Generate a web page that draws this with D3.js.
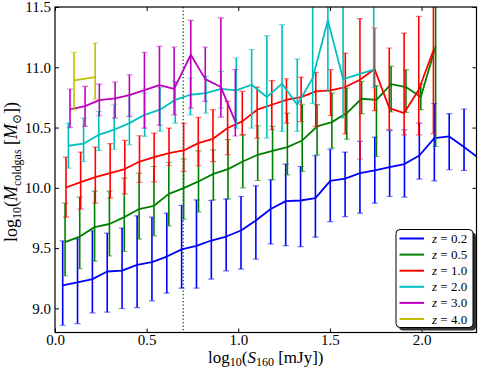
<!DOCTYPE html>
<html>
<head>
<meta charset="utf-8">
<script src="https://cdn.jsdelivr.net/npm/d3@7"></script>
<style>
  body { margin: 0; background: #fff; }
  svg { display: block; font-family: "Liberation Serif", "DejaVu Serif", serif; }
</style>
</head>
<body>
<script>
// values: x = log10(S160), y = log10(M_coldgas), lo/hi = error bar ends
var xBlue = [0.042,0.123,0.204,0.285,0.366,0.448,0.529,0.610,0.691,0.772,0.853,0.934,1.015,1.096,1.177,1.259,1.340,1.421,1.502,1.583,1.664,1.745,1.826,1.907,1.988,2.070,2.151,2.232,2.313];
var yBlue = [9.19,9.215,9.243,9.306,9.314,9.361,9.384,9.43,9.49,9.519,9.563,9.596,9.646,9.729,9.824,9.89,9.895,9.915,10.058,10.077,10.122,10.144,10.172,10.197,10.268,10.413,10.426,10.338,10.246];
var hiBlue = [9.56,9.577,9.644,9.624,9.666,9.768,9.757,9.79,9.854,9.9,9.895,9.907,9.928,10.017,10.067,10.197,10.177,10.266,10.32,10.297,10.385,10.421,10.476,10.482,10.537,10.698,10.615,10.654,10.55];
var loBlue = [8.86,8.874,8.963,8.969,8.999,9.007,9.063,9.127,9.168,9.168,9.243,9.312,9.326,9.409,9.535,9.52,9.513,9.591,9.72,9.762,9.79,9.873,9.928,9.923,10.073,10.058,10.15,10.144,9.95];

var xGreen = [0.055,0.135,0.216,0.297,0.378,0.459,0.540,0.621,0.702,0.783,0.864,0.944,1.025,1.106,1.187,1.268,1.349,1.430,1.511,1.592,1.673,1.754,1.834,1.915,1.996,2.077];
var yGreen = [9.55,9.596,9.674,9.70,9.757,9.824,9.851,9.95,9.998,10.053,10.116,10.155,10.218,10.274,10.307,10.338,10.393,10.509,10.545,10.62,10.739,10.73,10.861,10.836,10.753,11.173];
var hiGreen = [9.873,9.923,9.973,9.973,10.08,10.122,10.177,10.21,10.238,10.307,10.315,10.40,10.44,10.515,10.509,10.62,10.689,10.69,10.786,10.828,10.883,10.847,11.007,10.98,10.861,11.9];
var loGreen = [9.27,9.33,9.392,9.436,9.472,9.575,9.602,9.685,9.74,9.799,9.9,9.909,10.0,10.061,10.067,10.108,10.136,10.274,10.33,10.404,10.615,10.26,10.629,10.626,10.648,10.343];

var xRed = [0.060,0.140,0.220,0.301,0.381,0.461,0.541,0.622,0.702,0.782,0.862,0.942,1.022,1.103,1.183,1.263,1.343,1.423,1.504,1.584,1.664,1.744,1.824,1.905,1.985,2.065];
var yRed = [10.003,10.048,10.089,10.122,10.156,10.218,10.255,10.288,10.31,10.371,10.407,10.496,10.551,10.648,10.689,10.73,10.752,10.8,10.808,10.836,10.897,10.985,10.662,10.62,10.814,11.14];
var hiRed = [10.255,10.297,10.338,10.366,10.393,10.432,10.454,10.496,10.537,10.585,10.648,10.717,10.8,10.836,10.89,10.905,10.919,10.957,10.98,11.118,11.403,11.326,11.16,11.284,11.422,11.9];
var loRed = [9.757,9.824,9.873,9.915,9.95,10.045,10.05,10.183,10.136,10.183,10.218,10.274,10.44,10.413,10.482,10.537,10.55,10.509,10.6,10.447,10.239,10.64,10.482,10.44,10.44,10.45];

var xCyan = [0.073,0.156,0.239,0.323,0.406,0.489,0.573,0.656,0.739,0.823,0.906,0.989,1.073,1.156,1.239,1.322,1.406,1.489,1.572,1.739];
var yCyan = [10.349,10.366,10.44,10.482,10.537,10.606,10.648,10.73,10.772,10.786,10.82,10.808,10.855,10.753,10.864,10.689,10.91,11.389,10.902,10.98];
var hiCyan = [10.537,10.578,10.633,10.689,10.772,10.786,10.83,10.883,10.911,10.924,10.966,11.077,11.146,11.262,11.353,11.068,11.9,11.9,11.9,11.9];
var loCyan = [10.164,10.218,10.31,10.32,10.357,10.427,10.47,10.537,10.606,10.62,10.662,10.496,10.496,10.413,10.468,10.468,10.70,10.8,10.58,10.83];

var xMagenta = [0.082,0.164,0.242,0.328,0.406,0.488,0.570,0.650,0.741,0.820,0.905,0.984];
var yMagenta = [10.651,10.678,10.728,10.742,10.769,10.811,10.852,10.82,11.104,10.902,10.836,10.55];
var hiMagenta = [10.82,10.841,10.861,10.878,10.938,11.123,11.173,11.168,11.389,11.168,11.409,10.98];
var loMagenta = [10.5,10.51,10.598,10.579,10.592,10.496,10.52,10.606,10.662,10.717,10.587,10.43];

var xYellow = [0.104,0.219];
var yYellow = [10.891,10.919];
var hiYellow = [11.123,11.201];
var loYellow = [10.648,10.736];

var labels = ["0.2","0.5","1.0","2.0","3.0","4.0"];
var colors = ["#0000ff","#008000","#ff0000","#00bfbf","#bf00bf","#bfbf00"];
var xTicks = [0.0,0.5,1.0,1.5,2.0];
var yTicks = [9.0,9.5,10.0,10.5,11.0,11.5];
var cutLine = 0.7;

var series = [
  {x: xBlue, y: yBlue, lo: loBlue, hi: hiBlue},
  {x: xGreen, y: yGreen, lo: loGreen, hi: hiGreen},
  {x: xRed, y: yRed, lo: loRed, hi: hiRed},
  {x: xCyan, y: yCyan, lo: loCyan, hi: hiCyan},
  {x: xMagenta, y: yMagenta, lo: loMagenta, hi: hiMagenta},
  {x: xYellow, y: yYellow, lo: loYellow, hi: hiYellow}
];

const W = 480, H = 370;
const pL = 55, pR = 476.5, pT = 7, pB = 332.5;

const x = d3.scaleLinear().domain([0, 2.3]).range([pL, pR]);
const y = d3.scaleLinear().domain([8.8, 11.5]).range([pB, pT]);

const svg = d3.select("body").append("svg")
  .attr("width", W).attr("height", H);

svg.append("clipPath").attr("id", "plot")
  .append("rect")
  .attr("x", pL).attr("y", pT)
  .attr("width", pR - pL).attr("height", pB - pT);

const plot = svg.append("g").attr("clip-path", "url(#plot)");

// vertical dotted line
plot.append("line")
  .attr("x1", x(cutLine)).attr("x2", x(cutLine))
  .attr("y1", pT).attr("y2", pB)
  .attr("stroke", "#008000").attr("stroke-width", 1.5)
  .attr("stroke-dasharray", "1.2,2.3");

const line = d3.line().x(d => x(d[0])).y(d => y(d[1]));

series.forEach(function (s, i) {
  var pts = s.x.map((v, j) => [v, s.y[j], s.lo[j], s.hi[j]]);
  var g = plot.append("g");
  g.selectAll(".bar").data(pts).enter().append("line")
    .attr("x1", d => x(d[0])).attr("x2", d => x(d[0]))
    .attr("y1", d => y(d[2])).attr("y2", d => y(d[3]))
    .attr("stroke", colors[i]).attr("stroke-width", 1.6);
  ["lo", "hi"].forEach(function (k, m) {
    g.selectAll(".cap" + k).data(pts).enter().append("line")
      .attr("x1", d => x(d[0]) - 3).attr("x2", d => x(d[0]) + 3)
      .attr("y1", d => y(d[2 + m])).attr("y2", d => y(d[2 + m]))
      .attr("stroke", colors[i]).attr("stroke-width", 1.2)
      .attr("stroke-opacity", 0.55);
  });
  g.append("path").datum(pts)
    .attr("d", line)
    .attr("fill", "none")
    .attr("stroke", colors[i]).attr("stroke-width", 1.8)
    .attr("stroke-linejoin", "round");
});

// axes with inward ticks on all four sides
const fmt = d3.format(".1f");
function style(g) {
  g.select(".domain").remove();
  g.selectAll(".tick line").attr("stroke", "#000").attr("stroke-width", 1);
  g.selectAll(".tick text").attr("fill", "#000")
    .style("font-family", '"Liberation Serif","DejaVu Serif",serif')
    .style("font-size", "15px");
}
svg.append("g").attr("transform", "translate(0," + pB + ")")
  .call(d3.axisBottom(x).tickValues(xTicks).tickFormat(fmt).tickSize(-4).tickPadding(2))
  .call(style);
svg.append("g").attr("transform", "translate(0," + pT + ")")
  .call(d3.axisTop(x).tickValues(xTicks).tickFormat("").tickSize(-4))
  .call(style);
svg.append("g").attr("transform", "translate(" + pL + ",0)")
  .call(d3.axisLeft(y).tickValues(yTicks).tickFormat(fmt).tickSize(-4).tickPadding(4))
  .call(style);
svg.append("g").attr("transform", "translate(" + pR + ",0)")
  .call(d3.axisRight(y).tickValues(yTicks).tickFormat("").tickSize(-4))
  .call(style);

svg.append("rect")
  .attr("x", pL).attr("y", pT)
  .attr("width", pR - pL).attr("height", pB - pT)
  .attr("fill", "none").attr("stroke", "#000").attr("stroke-width", 1.2);

// axis labels
const xl = svg.append("text")
  .attr("x", (pL + pR) / 2).attr("y", 363)
  .attr("text-anchor", "middle").attr("font-size", 17);
xl.append("tspan").text("log");
xl.append("tspan").attr("font-size", 12).attr("dy", 3).text("10");
xl.append("tspan").attr("dy", -3).text("(");
xl.append("tspan").attr("font-style", "italic").text("S");
xl.append("tspan").attr("font-size", 12).attr("dy", 3).text("160");
xl.append("tspan").attr("dy", -3).text(" [mJy])");

const yl = svg.append("text")
  .attr("transform", "translate(17,172) rotate(-90)")
  .attr("text-anchor", "middle").attr("font-size", 18);
yl.append("tspan").text("log");
yl.append("tspan").attr("font-size", 12).attr("dy", 3.5).text("10");
yl.append("tspan").attr("dy", -3.5).text("(");
yl.append("tspan").attr("font-style", "italic").text("M");
yl.append("tspan").attr("font-size", 12).attr("dy", 3.5).text("coldgas");
yl.append("tspan").attr("dy", -3.5).text(" [");
yl.append("tspan").attr("font-style", "italic").text("M");
yl.append("tspan").attr("font-size", 12).attr("dy", 3.5).text("\u2299");
yl.append("tspan").attr("dy", -3.5).text("])");

// legend
const lx = 396, ly = 229.5, lw = 77, lh = 98;
svg.append("rect").attr("x", lx + 3).attr("y", ly + 3)
  .attr("width", lw).attr("height", lh).attr("rx", 4)
  .attr("fill", "#333");
svg.append("rect").attr("x", lx).attr("y", ly)
  .attr("width", lw).attr("height", lh).attr("rx", 4)
  .attr("fill", "#fff").attr("stroke", "#000").attr("stroke-width", 1);
labels.forEach(function (lab, i) {
  var yy = ly + 9 + i * 16.1;
  svg.append("line")
    .attr("x1", lx + 3.5).attr("x2", lx + 28)
    .attr("y1", yy).attr("y2", yy)
    .attr("stroke", colors[i]).attr("stroke-width", 2);
  var t = svg.append("text").attr("x", lx + 36).attr("y", yy + 4.5)
    .attr("font-size", 13);
  t.append("tspan").attr("font-style", "italic").text("z");
  t.append("tspan").text(" = " + lab);
});
</script>
</body>
</html>
